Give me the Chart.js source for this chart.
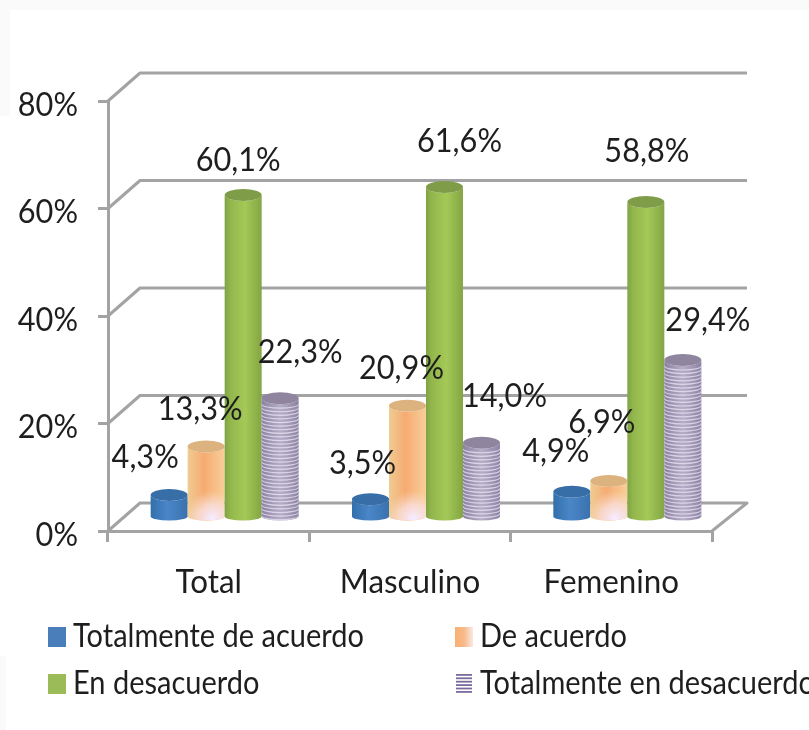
<!DOCTYPE html>
<html lang="es">
<head>
<meta charset="utf-8">
<title>Grado de acuerdo por sexo</title>
<style>
  html, body { margin: 0; padding: 0; background: #fff; overflow: hidden; }
  #wrap { width: 809px; height: 730px; }
  canvas { display: block; filter: blur(0.65px); }
</style>
</head>
<body>
<div id="wrap"><canvas id="chart" width="809" height="730"></canvas></div>
<script src="https://cdn.jsdelivr.net/npm/chart.js@4"></script>
<script>
const categories = ['Total', 'Masculino', 'Femenino'];
const seriesNames = ['Totalmente de acuerdo', 'De acuerdo', 'En desacuerdo', 'Totalmente en desacuerdo'];
const totalmenteAcuerdo = [4.3, 3.5, 4.9];
const deAcuerdo = [13.3, 20.9, 6.9];
const enDesacuerdo = [60.1, 61.6, 58.8];
const totalmenteDesacuerdo = [22.3, 14.0, 29.4];
const yTicks = [0, 20, 40, 60, 80];

const FONT = 'Lato, Carlito, sans-serif';
const TEXT = '#1e1e1e';
const GRID = '#a3a3a3';

// 3D look: walls sit back by this much, bars stand halfway in
const WALL_DX = 32;
const WALL_DY = -28;
const BAR_DX = 16;
const BAR_DY = -13;
const CAP_RY = 6;
const FOOT_RY = 4;

// label nudges per series / category, the original has them placed by hand
const labelNudges = [
  [[-24, -38], [-8, -36], [-16, -40]],
  [[-6, -37], [-6, -37], [-7, -59]],
  [[-5, -35], [15, -46], [1, -51]],
  [[20, -46], [23, -46], [25, -40]]
];

const capColors = ['#376ea8', '#dcb27f', '#7f9c48', '#8f859f'];

const sideStops = [
  [[0, '#3270ab'], [0.45, '#4a86c8'], [1, '#3a72ae']],
  [[0, '#efcb92'], [0.45, '#f6ab72'], [1, '#f8cf9a']],
  [[0, '#7fa344'], [0.15, '#92b64c'], [0.55, '#a4c957'], [1, '#83a544']],
  [[0, '#8c81a3'], [0.5, '#b6aec8'], [1, '#8d82a4']]
];

function sideGradient(ctx, x0, x1, stops) {
  const g = ctx.createLinearGradient(x0, 0, x1, 0);
  stops.forEach(s => g.addColorStop(s[0], s[1]));
  return g;
}

function cylinderPath(ctx, cx, rx, top, base) {
  ctx.beginPath();
  ctx.moveTo(cx - rx, top);
  ctx.lineTo(cx - rx, base);
  ctx.ellipse(cx, base, rx, FOOT_RY, 0, Math.PI, 0, true);
  ctx.lineTo(cx + rx, top);
  ctx.ellipse(cx, top, rx, CAP_RY, 0, 0, Math.PI, false);
  ctx.closePath();
}

function drawCylinder(ctx, el, seriesIndex) {
  const cx = el.x;
  const rx = el.width / 2;
  const top = el.y;
  const base = el.base;

  ctx.save();
  cylinderPath(ctx, cx, rx, top, base);
  ctx.fillStyle = sideGradient(ctx, cx - rx, cx + rx, sideStops[seriesIndex]);
  ctx.fill();
  ctx.clip();

  if (seriesIndex === 1) {
    // white glare at the foot of the orange bars
    const glare = ctx.createRadialGradient(cx + 6, base + 2, 1, cx + 6, base + 2, 28);
    glare.addColorStop(0, 'rgba(245,235,255,1)');
    glare.addColorStop(0.5, 'rgba(250,225,225,0.75)');
    glare.addColorStop(1, 'rgba(250,225,200,0)');
    ctx.fillStyle = glare;
    ctx.fillRect(cx - rx, top, rx * 2, base - top + FOOT_RY);
  }

  if (seriesIndex === 3) {
    // horizontal rings of the hatched series
    ctx.strokeStyle = 'rgba(238,234,246,0.7)';
    ctx.lineWidth = 1.2;
    for (let y = top + 6; y < base + FOOT_RY; y += 3.6) {
      ctx.beginPath();
      ctx.ellipse(cx, y, rx, FOOT_RY, 0, Math.PI, 0, true);
      ctx.stroke();
    }
  }
  ctx.restore();

  ctx.beginPath();
  ctx.ellipse(cx, top, rx, CAP_RY, 0, 0, Math.PI * 2);
  ctx.fillStyle = capColors[seriesIndex];
  ctx.fill();
}

function drawSwatch(ctx, x, y, size, seriesIndex) {
  if (seriesIndex === 3) {
    ctx.fillStyle = '#7d6a9c';
    for (let i = 0; i < 6; i++) ctx.fillRect(x + 1, y + i * 3.4, size - 2, 1.8);
    return;
  }
  const g = ctx.createLinearGradient(x, 0, x + size, 0);
  if (seriesIndex === 0) { g.addColorStop(0, '#4a7ebb'); g.addColorStop(1, '#4a7ebb'); }
  if (seriesIndex === 1) { g.addColorStop(0, '#f9b070'); g.addColorStop(0.5, '#f8b98a'); g.addColorStop(1, '#fbe8e4'); }
  if (seriesIndex === 2) { g.addColorStop(0, '#9bbb59'); g.addColorStop(1, '#9bbb59'); }
  ctx.fillStyle = g;
  ctx.fillRect(x, y, size, size + 2);
}

// reference text is squeezed sideways, so squeeze ours too
function squeezedText(ctx, text, x, y, sx) {
  ctx.save();
  ctx.translate(x, y);
  ctx.scale(sx, 1);
  ctx.fillText(text, 0, 0);
  ctx.restore();
}

/* ===== Plugins ===== */

const pageBackdrop = {
  id: 'pageBackdrop',
  beforeDraw(chart) {
    // faint grey leftovers around the pasted picture
    const ctx = chart.ctx;
    ctx.save();
    ctx.fillStyle = '#fafafa';
    ctx.fillRect(0, 0, 809, 10);
    ctx.fillRect(0, 0, 10, 116);
    ctx.fillRect(0, 656, 6, 74);
    ctx.restore();
  }
};

const walls = {
  id: 'walls',
  beforeDatasetsDraw(chart) {
    const { ctx, chartArea, scales } = chart;
    ctx.save();
    ctx.strokeStyle = GRID;
    ctx.lineWidth = 3;
    ctx.lineJoin = 'round';
    yTicks.forEach(v => {
      const y = scales.y.getPixelForValue(v);
      ctx.beginPath();
      ctx.moveTo(chartArea.left, y);
      ctx.lineTo(chartArea.left + WALL_DX, y + WALL_DY);
      ctx.lineTo(chartArea.right + WALL_DX + 3, y + WALL_DY);
      if (v === 0) ctx.lineTo(chartArea.right, y);
      ctx.stroke();
    });
    ctx.restore();
  }
};

const axisText = {
  id: 'axisText',
  afterDraw(chart) {
    const { ctx, scales } = chart;
    ctx.save();
    ctx.font = '33px ' + FONT;
    ctx.fillStyle = TEXT;
    ctx.textBaseline = 'middle';
    ctx.textAlign = 'right';
    scales.y.ticks.forEach((t, i) => {
      squeezedText(ctx, t.label, 78, scales.y.getPixelForTick(i) + 4, 0.93);
    });
    ctx.textAlign = 'center';
    scales.x.ticks.forEach((t, i) => {
      squeezedText(ctx, t.label, scales.x.getPixelForTick(i), 582, 0.95);
    });
    ctx.restore();
  }
};

const cylinders = {
  id: 'cylinders',
  afterDatasetsDraw(chart) {
    const ctx = chart.ctx;
    ctx.save();
    ctx.translate(BAR_DX, BAR_DY);
    chart.data.datasets.forEach((ds, i) => {
      chart.getDatasetMeta(i).data.forEach(el => drawCylinder(ctx, el, i));
    });
    ctx.restore();

    ctx.save();
    ctx.font = '33px ' + FONT;
    ctx.fillStyle = TEXT;
    ctx.textAlign = 'center';
    ctx.textBaseline = 'middle';
    chart.data.datasets.forEach((ds, i) => {
      chart.getDatasetMeta(i).data.forEach((el, j) => {
        const nudge = labelNudges[i][j];
        const text = ds.data[j].toFixed(1).replace('.', ',') + '%';
        squeezedText(ctx, text, el.x + BAR_DX + nudge[0], el.y + BAR_DY + nudge[1], 0.93);
      });
    });
    ctx.restore();
  }
};

const gridLegend = {
  id: 'gridLegend',
  afterDraw(chart) {
    const ctx = chart.ctx;
    const cols = [48, 455];
    const rows = [637, 684];
    ctx.save();
    ctx.font = '32px ' + FONT;
    ctx.textBaseline = 'middle';
    seriesNames.forEach((name, i) => {
      const x = cols[i % 2];
      const y = rows[Math.floor(i / 2)];
      drawSwatch(ctx, x, y - 10, 18, i);
      ctx.fillStyle = TEXT;
      squeezedText(ctx, name, x + 25, y, 0.906);
    });
    ctx.restore();
  }
};

/* ===== Chart ===== */

new Chart(document.getElementById('chart'), {
  type: 'bar',
  data: {
    labels: categories,
    datasets: [
      { label: seriesNames[0], data: totalmenteAcuerdo, backgroundColor: 'rgba(0,0,0,0)' },
      { label: seriesNames[1], data: deAcuerdo, backgroundColor: 'rgba(0,0,0,0)' },
      { label: seriesNames[2], data: enDesacuerdo, backgroundColor: 'rgba(0,0,0,0)' },
      { label: seriesNames[3], data: totalmenteDesacuerdo, backgroundColor: 'rgba(0,0,0,0)' }
    ]
  },
  options: {
    responsive: false,
    animation: false,
    barThickness: 37,
    layout: { padding: { left: 0, right: 97, top: 101, bottom: 0 } },
    plugins: {
      legend: { display: false },
      tooltip: { enabled: false }
    },
    scales: {
      x: {
        afterFit: s => { s.height = 199; },
        grid: { drawOnChartArea: false, color: GRID, lineWidth: 3, tickLength: 11 },
        border: { color: GRID, width: 3 },
        ticks: { display: false, maxRotation: 0 }
      },
      y: {
        min: 0,
        max: 80,
        afterFit: s => { s.width = 108; },
        afterBuildTicks: s => { s.ticks = yTicks.map(v => ({ value: v })); },
        grid: { drawOnChartArea: false, color: GRID, lineWidth: 3, tickLength: 10 },
        border: { color: GRID, width: 3 },
        ticks: { display: false, callback: v => v + '%' }
      }
    }
  },
  plugins: [pageBackdrop, walls, cylinders, axisText, gridLegend]
});
</script>
</body>
</html>
